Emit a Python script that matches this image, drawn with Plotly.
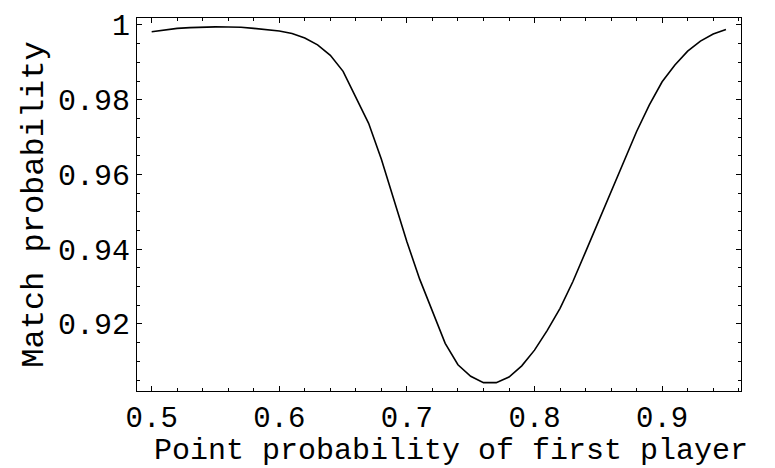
import plotly.graph_objects as go

point_prob = [0.50, 0.51, 0.52, 0.53, 0.54, 0.55, 0.56, 0.57, 0.58, 0.59,
              0.60, 0.61, 0.62, 0.63, 0.64, 0.65, 0.66, 0.67, 0.68, 0.69,
              0.70, 0.71, 0.72, 0.73, 0.74, 0.75, 0.76, 0.77, 0.78, 0.79,
              0.80, 0.81, 0.82, 0.83, 0.84, 0.85, 0.86, 0.87, 0.88, 0.89,
              0.90, 0.91, 0.92, 0.93, 0.94, 0.95]
match_prob = [0.9982, 0.9987, 0.9991, 0.9993, 0.99945, 0.9995, 0.99948, 0.9994, 0.9991, 0.9988,
              0.9984, 0.9977, 0.9965, 0.9947, 0.9919, 0.9876, 0.9808, 0.9737, 0.9641, 0.9530,
              0.9420, 0.9320, 0.9232, 0.9148, 0.9091, 0.9060, 0.9043, 0.9043, 0.9058, 0.9088,
              0.9130, 0.9183, 0.9242, 0.9313, 0.9393, 0.9473, 0.9553, 0.9635, 0.9715, 0.9786,
              0.9848, 0.9893, 0.9930, 0.9957, 0.9976, 0.9988]

x_tickvals = [0.5, 0.6, 0.7, 0.8, 0.9]
x_ticktext = ["0.5", "0.6", "0.7", "0.8", "0.9"]
y_tickvals = [0.92, 0.94, 0.96, 0.98, 1.0]
y_ticktext = ["0.92", "0.94", "0.96", "0.98", "1"]
x_title = "Point probability of first player"
y_title = "Match probability"

FONT = "Liberation Mono, Courier New, monospace"

fig = go.Figure()
fig.add_trace(go.Scatter(x=point_prob, y=match_prob, mode="lines",
                         line=dict(color="black", width=1.6), showlegend=False))

axis_common = dict(
    showline=True, linecolor="black", linewidth=1, mirror="allticks",
    ticks="inside", ticklen=5, tickwidth=1, tickcolor="black",
    showgrid=False, zeroline=False, automargin=False,
)

fig.update_xaxes(range=[0.4885, 0.9618], tickvals=x_tickvals, ticktext=x_ticktext,
                 ticklabelstandoff=0,
                 tickfont=dict(family=FONT, size=29, color="black"),
                 minor=dict(ticks="inside", ticklen=3, tickcolor="black", dtick=0.02,
                            tick0=0.5, showgrid=False),
                 **axis_common)
fig.update_yaxes(range=[0.90207, 1.00187], tickvals=y_tickvals, ticktext=y_ticktext,
                 tickfont=dict(family=FONT, size=30, color="black"),
                 minor=dict(ticks="inside", ticklen=3, tickcolor="black", dtick=0.005,
                            tick0=0.9, showgrid=False),
                 title=dict(text=y_title,
                            font=dict(family=FONT, size=32, color="black"), standoff=4),
                 **axis_common)

fig.add_annotation(text=x_title, xref="paper", yref="paper", x=0.52, y=-0.161,
                   xanchor="center", yanchor="middle", showarrow=False,
                   font=dict(family=FONT, size=30, color="black"))

fig.update_layout(width=775, height=468, margin=dict(l=137, r=34, t=18, b=77),
                  paper_bgcolor="white", plot_bgcolor="white")

fig.write_html("out.html")
